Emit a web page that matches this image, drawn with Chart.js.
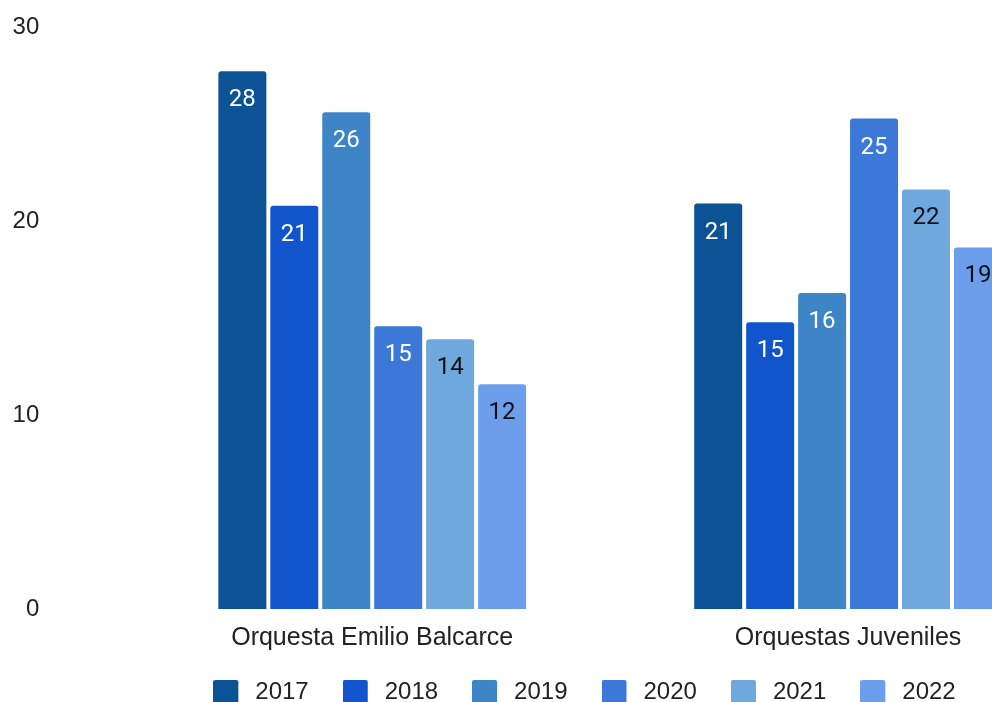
<!DOCTYPE html>
<html><head><meta charset="utf-8">
<script src="https://cdn.jsdelivr.net/npm/chart.js@4/dist/chart.umd.min.js"></script>
<style>html,body{margin:0;padding:0;overflow:hidden;background:#fff}#wrap{width:1169px;height:721px}</style>
</head><body><div id="wrap"><canvas id="c" width="1169" height="721"></canvas></div>
<script>
// ---- data ----
const categories = ['Orquesta Emilio Balcarce', 'Orquestas Juveniles'];
const seriesNames = ['2017', '2018', '2019', '2020', '2021', '2022'];
const v2017 = [27.72, 20.9];
const v2018 = [20.79, 14.78];
const v2019 = [25.61, 16.29];
const v2020 = [14.57, 25.28];
const v2021 = [13.9, 21.63];
const v2022 = [11.59, 18.64];
const yTickValues = [0, 10, 20, 30];
// ---- styles ----
const seriesColors = ['#0b5394', '#1155cc', '#3d85c6', '#3c78d8', '#6fa8dc', '#6d9eeb'];
const valueLabelColors = ['#ffffff', '#ffffff', '#ffffff', '#ffffff', '#111111', '#111111'];
const seriesValues = [v2017, v2018, v2019, v2020, v2021, v2022];
const axisFont = '"Liberation Sans", Arial, sans-serif';

function legendSwatch(color) {
  const c = document.createElement('canvas');
  c.width = 30; c.height = 25;
  const g = c.getContext('2d');
  g.fillStyle = color;
  g.beginPath();
  if (g.roundRect) g.roundRect(0, 0, 25, 25, 2); else g.rect(0, 0, 25, 25);
  g.fill();
  return c;
}
const swatches = seriesColors.map(legendSwatch);

const valueLabels = {
  id: 'valueLabels',
  afterDatasetsDraw(chart) {
    const ctx = chart.ctx;
    ctx.save();
    ctx.font = '24px Roboto';
    ctx.textAlign = 'center';
    ctx.textBaseline = 'alphabetic';
    chart.data.datasets.forEach((ds, i) => {
      const meta = chart.getDatasetMeta(i);
      ctx.fillStyle = valueLabelColors[i];
      meta.data.forEach((bar, j) => {
        ctx.fillText(String(Math.round(ds.data[j])), bar.x, bar.y + 35);
      });
    });
    ctx.restore();
  }
};

// lift the legend row slightly so it sits closer to the category labels
const legendLift = {
  id: 'legendLift',
  afterLayout(chart) {
    if (chart.legend) { chart.legend.top -= 6.5; chart.legend.bottom -= 6.5; }
  }
};

new Chart(document.getElementById('c'), {
  type: 'bar',
  data: {
    labels: categories,
    datasets: seriesNames.map((name, i) => ({
      label: name,
      data: seriesValues[i],
      backgroundColor: seriesColors[i],
      borderWidth: 0,
      borderRadius: 3,
      categoryPercentage: 0.655,
      barPercentage: 0.924
    }))
  },
  options: {
    responsive: false,
    animation: false,
    events: [],
    layout: { padding: { top: 27, left: 0, right: 0, bottom: 0 } },
    plugins: {
      tooltip: { enabled: false },
      legend: {
        position: 'bottom',
        labels: {
          usePointStyle: true,
          pointStyleWidth: 30,
          padding: 34,
          color: '#222',
          font: { family: axisFont, size: 24 },
          generateLabels(chart) {
            return chart.data.datasets.map((ds, i) => ({
              text: ds.label,
              fillStyle: seriesColors[i],
              strokeStyle: seriesColors[i],
              lineWidth: 0,
              pointStyle: swatches[i],
              hidden: false,
              datasetIndex: i,
              fontColor: '#222'
            }));
          }
        }
      }
    },
    scales: {
      x: {
        grid: { display: false, drawTicks: false },
        border: { display: false },
        ticks: { color: '#222', padding: 14.3, maxRotation: 0, font: { family: axisFont, size: 25 } },
        afterFit(s) { s.height = 44; }
      },
      y: {
        min: 0, max: 30,
        grid: { display: false, drawTicks: false },
        border: { display: false },
        afterBuildTicks(s) { s.ticks = yTickValues.map(v => ({ value: v })); },
        ticks: { color: '#222', padding: 95, font: { family: axisFont, size: 24 } },
        afterFit(s) { s.width = 134.3; s.paddingTop = 0; s.paddingBottom = 0; }
      },
      yR: {
        position: 'right',
        min: 0, max: 30,
        grid: { display: false, drawTicks: false },
        border: { display: false },
        ticks: { display: false },
        afterFit(s) { s.width = 83; s.paddingTop = 0; s.paddingBottom = 0; }
      }
    }
  },
  plugins: [valueLabels, legendLift]
});
</script></body></html>
